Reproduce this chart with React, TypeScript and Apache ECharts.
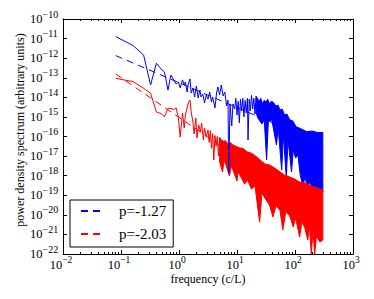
import React, { useEffect, useRef } from "react";
import * as echarts from "echarts";

const FONT = "Liberation Serif";
const BLUE = "#0000ff";
const RED = "#ff0000";

// axis ranges (log10 units)
const xExtent = [-2, 3];
const yExtent = [-22, -10];
const minorFactors = [2, 3, 4, 5, 6, 7, 8, 9];
const minorDecades = [-2, -1, 0, 1, 2];

const xTitle = "frequency (c/L)";
const yTitle = "power density spectrum (arbitrary units)";
const fitNames = ["p=-1.27", "p=-2.03"];

// [log10 frequency, log10 power]
const blueLine: number[][] = [
  [-1.09, -10.9], [-0.79, -11.36], [-0.61, -11.84], [-0.49, -13.37], [-0.39, -12.26],
  [-0.31, -12.55], [-0.25, -12.71], [-0.19, -13.63], [-0.14, -12.86], [-0.09, -13.11],
  [-0.05, -13.32], [-0.01, -13.22], [0.02, -13.52], [0.06, -13.11], [0.09, -13.37],
  [0.11, -13.22], [0.14, -13.73], [0.16, -13.32], [0.19, -13.06], [0.21, -13.78],
  [0.24, -13.52], [0.27, -13.98], [0.3, -13.42], [0.33, -14.03], [0.36, -13.63],
  [0.38, -13.98], [0.41, -13.83], [0.44, -14.29], [0.47, -13.88], [0.5, -14.09],
  [0.53, -13.73], [0.56, -14.24], [0.58, -13.98], [0.62, -14.54], [0.65, -13.73],
  [0.67, -13.47], [0.7, -13.88], [0.73, -13.37], [0.76, -13.93], [0.79, -13.73],
  [0.82, -14.44], [0.845, -14.14], [0.857, -17.9], [0.88, -14.34], [0.91, -15.46],
  [0.93, -14.34], [0.96, -14.6], [0.98, -14.05], [1.0, -14.9], [1.02, -14.2],
  [1.04, -15.3], [1.06, -14.1], [1.08, -14.7], [1.1, -14.05], [1.12, -15.0],
  [1.14, -14.15], [1.16, -14.8], [1.18, -14.05], [1.19, -16.18], [1.21, -14.1],
  [1.23, -14.7], [1.25, -13.9], [1.27, -14.6], [1.29, -14.05], [1.31, -14.85],
  [1.33, -13.95],
];
const blueBandTop: number[][] = [
  [1.33, -13.95], [1.36, -14.1], [1.39, -14.19], [1.41, -14.05],
  [1.44, -14.34], [1.47, -14.15], [1.5, -14.24], [1.53, -14.1], [1.56, -14.34], [1.59, -14.2],
  [1.62, -14.24], [1.65, -14.35], [1.67, -14.44], [1.71, -14.4], [1.74, -14.65], [1.78, -14.6],
  [1.82, -14.9], [1.86, -14.85], [1.91, -15.15], [1.96, -15.2], [2.02, -15.5], [2.1, -15.6],
  [2.2, -15.75], [2.3, -15.72], [2.38, -15.79], [2.48, -15.8],
];
const blueBandBottom: number[][] = [
  [1.33, -14.8],
  [1.36, -15.06], [1.43, -15.36], [1.47, -15.16], [1.51, -17.2], [1.54, -15.26],
  [1.6, -15.16], [1.68, -16.43], [1.71, -15.57], [1.77, -17.71], [1.8, -15.92],
  [1.85, -18.12], [1.88, -16.18], [1.94, -17.81], [1.97, -16.69], [2.01, -17.1],
  [2.05, -16.94], [2.09, -17.97], [2.14, -18.58], [2.17, -18.02], [2.22, -18.73],
  [2.25, -18.32], [2.31, -18.68], [2.36, -18.73], [2.43, -18.83], [2.48, -18.83],
];
const redLine: number[][] = [
  [-1.09, -13.03], [-0.79, -13.2], [-0.61, -13.54], [-0.49, -13.79], [-0.39, -14.75],
  [-0.31, -14.83], [-0.25, -14.99], [-0.19, -14.56], [-0.14, -14.57], [-0.09, -14.62],
  [-0.05, -14.54], [-0.01, -15.06], [0.02, -16.03], [0.06, -14.8], [0.09, -15.57],
  [0.11, -14.9], [0.14, -14.54], [0.16, -14.29], [0.19, -14.14], [0.21, -14.75],
  [0.24, -15.26], [0.26, -15.87], [0.29, -15.06], [0.31, -16.08], [0.34, -15.41],
  [0.37, -15.77], [0.39, -15.31], [0.42, -16.18], [0.44, -15.57], [0.47, -16.03],
  [0.5, -15.67], [0.52, -16.3], [0.54, -15.7], [0.56, -16.6], [0.58, -15.85],
  [0.6, -17.2], [0.62, -15.95], [0.64, -16.5], [0.66, -16.0], [0.68, -17.0],
  [0.7, -16.05],
];
const redBandTop: number[][] = [
  [0.7, -16.05], [0.74, -16.2], [0.77, -16.25], [0.8, -16.2], [0.84, -16.38], [0.88, -16.3],
  [0.93, -16.43], [0.98, -16.5], [1.05, -16.59], [1.1, -16.6], [1.18, -16.79], [1.25, -16.85],
  [1.32, -17.0], [1.4, -17.2], [1.48, -17.4], [1.56, -17.45], [1.65, -17.61], [1.74, -17.8],
  [1.82, -17.97], [1.9, -18.05], [1.99, -18.17], [2.08, -18.32], [2.17, -18.37], [2.26, -18.5],
  [2.34, -18.58], [2.48, -18.73],
];
const redBandBottom: number[][] = [
  [0.7, -17.3], [0.75, -17.81], [0.78, -17.2], [0.81, -17.46], [0.87, -18.02], [0.9, -17.5], [0.93, -17.71],
  [1.0, -18.27], [1.02, -17.8], [1.05, -17.97], [1.13, -18.43], [1.18, -18.22], [1.25, -18.68],
  [1.31, -18.53], [1.39, -20.37], [1.43, -18.89], [1.5, -19.24], [1.56, -19.5],
  [1.62, -20.11], [1.67, -19.55], [1.74, -19.75], [1.79, -20.77], [1.84, -19.86],
  [1.91, -20.06], [1.97, -20.62], [2.01, -20.16], [2.08, -21.13], [2.12, -20.37],
  [2.17, -20.67], [2.22, -21.29], [2.25, -20.57], [2.28, -22.0], [2.31, -20.88],
  [2.34, -22.0], [2.37, -21.08], [2.43, -21.39], [2.48, -21.29],
];
const blueFit: number[][] = [[-1.09, -11.87], [2.48, -16.4]];
const redFit: number[][] = [[-1.09, -12.81], [2.48, -20.06]];

function expLabel(v: number) {
  const s = v < 0 ? "\u2212" + Math.abs(v) : String(v);
  return `{b|10}{s|${s}}`;
}

function bandSeries(name: string, top: number[][], bottom: number[][], color: string) {
  const pts = top.concat(bottom.slice().reverse());
  return {
    name,
    type: "custom",
    data: pts,
    clip: true,
    silent: true,
    z: 2,
    renderItem: (params: any, api: any) => {
      if (params.dataIndex !== 0) return { type: "group", children: [] };
      const poly = pts.map((p) => api.coord(p));
      return {
        type: "polygon",
        shape: { points: poly },
        style: { fill: color, stroke: color, lineWidth: 1 },
      };
    },
  };
}

function lineSeries(name: string, data: number[][], color: string, dashed: boolean) {
  return {
    name,
    type: "line",
    data,
    symbol: "none",
    showSymbol: false,
    clip: true,
    z: dashed ? 4 : 2,
    itemStyle: { color },
    lineStyle: { color, width: 1, type: dashed ? [7, 5] : "solid" },
  };
}

export default function App() {
  const ref = useRef<HTMLDivElement>(null);
  useEffect(() => {
    const chart = echarts.init(ref.current!, undefined, { renderer: "svg" });
    const txt = { fontFamily: FONT, fontWeight: "normal", color: "#000000" };
    const richX = {
      b: { ...txt, fontSize: 12.5, lineHeight: 20 },
      s: { ...txt, fontSize: 9.5, lineHeight: 10, verticalAlign: "top", padding: [0, 4, 0, 0] },
    };
    const richY = {
      b: { ...txt, fontSize: 12.5, lineHeight: 20 },
      s: { ...txt, fontSize: 10, lineHeight: 10, verticalAlign: "top" },
    };
    const axisCommon = {
      type: "value",
      interval: 1,
      axisLine: { show: true, onZero: false, lineStyle: { color: "#000", width: 1 } },
      axisTick: { show: true, inside: true, length: 4, lineStyle: { color: "#000", width: 1 } },
      splitLine: { show: false },
    };
    const minorTicks = minorDecades.flatMap((d) => minorFactors.map((m) => [d + Math.log10(m), yExtent[0]]));
    const option: any = {
      animation: false,
      backgroundColor: "#fff",
      grid: { left: 63, top: 19, width: 290, height: 235 },
      xAxis: [
        {
          ...axisCommon,
          min: xExtent[0],
          max: xExtent[1],
          position: "bottom",
          axisLabel: { ...txt, margin: 1, formatter: expLabel, rich: richX },
        },
        {
          ...axisCommon,
          min: xExtent[0],
          max: xExtent[1],
          position: "top",
          axisLabel: { show: false },
        },
      ],
      yAxis: [
        {
          ...axisCommon,
          min: yExtent[0],
          max: yExtent[1],
          position: "left",
          axisLabel: { ...txt, margin: 33, align: "left", formatter: expLabel, rich: richY },
        },
        {
          ...axisCommon,
          min: yExtent[0],
          max: yExtent[1],
          position: "right",
          axisLabel: { show: false },
        },
      ],
      legend: {
        data: fitNames,
        orient: "vertical",
        left: 70,
        top: 200,
        itemWidth: 19,
        itemHeight: 10,
        itemGap: 7,
        padding: [3, 7, 5, 10],
        borderColor: "#000",
        borderWidth: 1,
        borderRadius: 0,
        backgroundColor: "#fff",
        selectedMode: false,
        itemStyle: { opacity: 0 },
        textStyle: { fontFamily: FONT, fontSize: 15, color: "#000", lineHeight: 16, padding: [0, 0, 0, 14] },
      },
      graphic: [
        {
          type: "text",
          x: 20,
          y: 130,
          rotation: Math.PI / 2,
          style: { text: yTitle, fontFamily: FONT, fontSize: 12, fill: "#000", align: "center", verticalAlign: "middle" },
        },
        {
          type: "text",
          x: 208,
          y: 279,
          style: { text: xTitle, fontFamily: FONT, fontSize: 12, fill: "#000", align: "center", verticalAlign: "middle" },
        },
      ],
      series: [
        lineSeries("blue spectrum", blueLine, BLUE, false),
        bandSeries("blue spectrum band", blueBandTop, blueBandBottom, BLUE),
        lineSeries("red spectrum", redLine, RED, false),
        bandSeries("red spectrum band", redBandTop, redBandBottom, RED),
        lineSeries(fitNames[0], blueFit, BLUE, true),
        lineSeries(fitNames[1], redFit, RED, true),
        {
          name: "minor ticks",
          type: "custom",
          data: minorTicks,
          silent: true,
          z: 5,
          renderItem: (params: any, api: any) => {
            const cs = params.coordSys;
            const x = Math.round(api.coord([api.value(0), yExtent[0]])[0]) + 0.5;
            return {
              type: "group",
              children: [
                { type: "line", shape: { x1: x, y1: cs.y + cs.height, x2: x, y2: cs.y + cs.height - 2 }, style: { stroke: "#000", lineWidth: 1 } },
                { type: "line", shape: { x1: x, y1: cs.y, x2: x, y2: cs.y + 2 }, style: { stroke: "#000", lineWidth: 1 } },
              ],
            };
          },
        },
      ],
    };
    chart.setOption(option);
    return () => chart.dispose();
  }, []);
  return <div ref={ref} style={{ position: "absolute", left: 0, top: 0, width: 374, height: 299 }} />;
}
